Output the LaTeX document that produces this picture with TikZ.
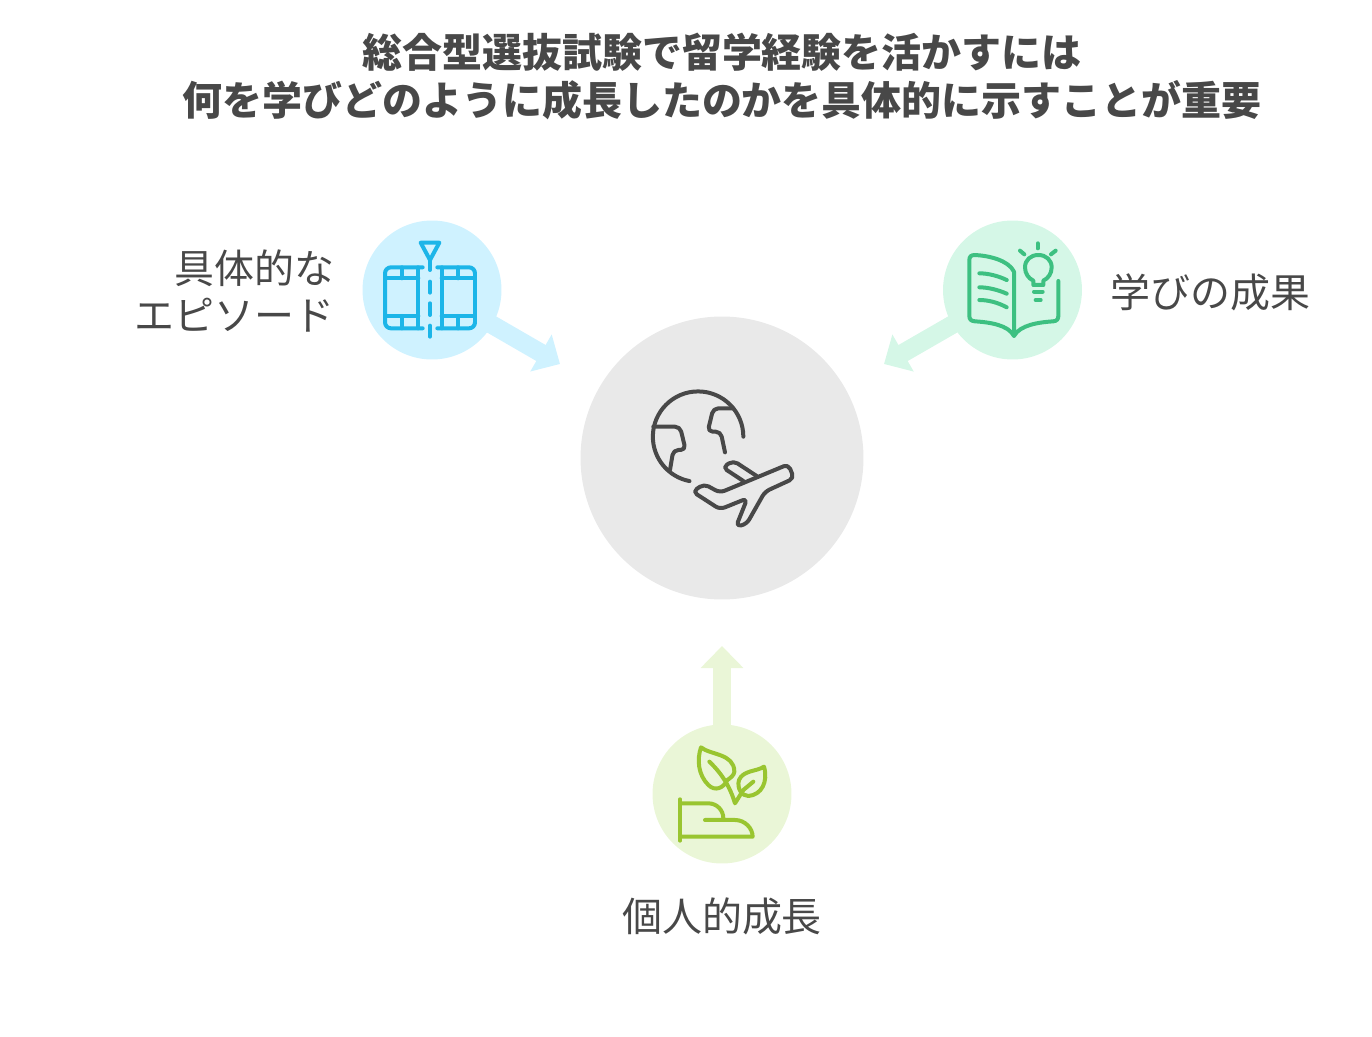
\documentclass[tikz,border=0pt]{standalone}
\usepackage{fontspec}
\setmainfont{Noto Sans CJK JP}
\usetikzlibrary{arrows.meta}
\definecolor{inkgray}{HTML}{484848}
\definecolor{hubgray}{HTML}{E9E9E9}
\definecolor{paleblue}{HTML}{CFF2FF}
\definecolor{palegreen}{HTML}{D5F7E7}
\definecolor{palelime}{HTML}{EAF6D7}
\definecolor{iconblue}{HTML}{1CB5E8}
\definecolor{icongreen}{HTML}{3DC081}
\definecolor{iconlime}{HTML}{99C530}
\tikzset{
  bubble/.style={circle,inner sep=0pt,minimum size=2.78cm},
  flow/.style={line width=.37cm,shorten <=-.04cm,-{Triangle[length=.44cm,width=.83cm]}},
  label/.style={text=inkgray,inner sep=0pt,font=\fontsize{22.76}{27.3}\selectfont},
  icon/.style={line width=.08cm,line cap=round,line join=round}
}
\begin{document}
\begin{tikzpicture}[x=.02cm,y=-.02cm]
\useasboundingbox (0,0) rectangle (1372,1037);
\node[label,font=\fontsize{22.76}{27.3}\selectfont\bfseries,align=center] (title) at (722,76) {総合型選抜試験で留学経験を活かすには\\何を学びどのように成長したのかを具体的に示すことが重要};
\node[bubble,minimum size=5.66cm,fill=hubgray] (hub) at (722,458) {};
\node[bubble,fill=paleblue] (episode) at (432,290) {};
\node[bubble,fill=palegreen] (result) at (1012.5,290) {};
\node[bubble,fill=palelime] (growth) at (722,794) {};
\coordinate (episodeend) at (560,364);
\coordinate (resultend) at (884,364);
\coordinate (growthend) at (722,646);
\draw[flow,paleblue] (episode) -- (episodeend);
\draw[flow,palegreen] (result) -- (resultend);
\draw[flow,palelime] (growth) -- (growthend);
\node[label,anchor=east,align=right] (episodetext) at (334.5,291) {具体的な\\エピソード};
\node[label,anchor=west] (resulttext) at (1110,292) {学びの成果};
\node[label] (growthtext) at (722,916) {個人的成長};
% film strips
\begin{scope}[icon,draw=iconblue,shift={(350,210)},x=.02cm/3,y=-.02cm/3]
\draw (212,98)--(268,98)--(240,150)--cycle;
\draw (240,150)--(240,180);
\draw (240,215)--(240,248);
\draw (240,280)--(240,315);
\draw (240,347)--(240,380);
\draw[rounded corners=.12cm] (218,172)--(105,172)--(105,355)--(218,355);
\draw (205,172)--(205,355);
\draw (105,205)--(205,205);
\draw (105,318)--(205,318);
\draw (155,172)--(155,205);
\draw (155,318)--(155,355);
\draw[rounded corners=.12cm] (262,172)--(375,172)--(375,355)--(262,355);
\draw (275,172)--(275,355);
\draw (275,205)--(375,205);
\draw (275,318)--(375,318);
\draw (325,172)--(325,205);
\draw (325,318)--(325,355);
\end{scope}
% book and bulb
\begin{scope}[icon,draw=icongreen,shift={(880,210)},x=.02cm/3,y=-.02cm/3]
\draw (402,378)--(402,185) .. controls (385,150) and (325,137) .. (285,135) .. controls (273,135) and (268,140) .. (268,150)--(268,318) .. controls (268,328) and (273,333) .. (285,334) .. controls (330,337) and (385,345) .. (402,378) .. controls (420,345) and (475,337) .. (520,334) .. controls (530,333) and (535,328) .. (535,318)--(535,213);
\draw (298,190) .. controls (325,190) and (355,198) .. (380,210);
\draw (298,232) .. controls (325,232) and (355,240) .. (380,251);
\draw (298,270) .. controls (325,270) and (355,278) .. (380,292);
\draw (460,225)--(460,212) .. controls (445,205) and (435,190) .. (435,172) .. controls (435,150) and (452,135) .. (475,135) .. controls (498,135) and (515,150) .. (515,172) .. controls (515,190) and (505,205) .. (490,212)--(490,225)--cycle;
\draw (462,245)--(488,245);
\draw (467,270)--(482,270);
\draw (473,100)--(473,115);
\draw (420,122)--(433,133);
\draw (527,122)--(513,133);
\end{scope}
% globe and plane
\begin{scope}[icon,draw=inkgray,shift={(630,370)},x=.02cm/3,y=-.02cm/3]
\draw (340,200) arc[start angle=0,end angle=259,radius=.905cm];
\draw[rounded corners=.1cm] (70,170)--(150,170)--(167,240)--(130,240)--(120,300);
\draw[rounded corners=.1cm] (310,115)--(250,115)--(233,185)--(272,185)--(285,247);
\draw[rounded corners=.1cm] (270,368)--(475,283)--(492,325)--(405,365)--(350,462)--(318,470)--(352,385)--(270,418)--(188,365)--(222,342)--cycle;
\draw[rounded corners=.1cm] (340,333)--(278,292)--(310,272)--(380,318);
\end{scope}
% hand and sprout
\begin{scope}[icon,draw=iconlime,shift={(640,640)},x=.02cm/3,y=-.02cm/3]
\draw (120,478)--(120,602);
\draw (120,490)--(205,490) .. controls (230,490) and (250,510) .. (250,535);
\draw (195,540)--(285,540) .. controls (315,540) and (338,565) .. (338,590)--(120,590);
\draw (183,322) .. controls (210,345) and (283,340) .. (283,395) .. controls (283,405) and (270,415) .. (262,420) .. controls (250,445) and (225,455) .. (205,435) .. controls (175,405) and (170,360) .. (183,322)--cycle;
\draw (208,365) .. controls (245,400) and (270,440) .. (285,490)--(310,450)--(340,425);
\draw (372,380) .. controls (350,395) and (310,390) .. (297,420) .. controls (290,445) and (305,468) .. (325,468) .. controls (365,465) and (385,425) .. (372,380)--cycle;
\end{scope}
\end{tikzpicture}
\end{document}
